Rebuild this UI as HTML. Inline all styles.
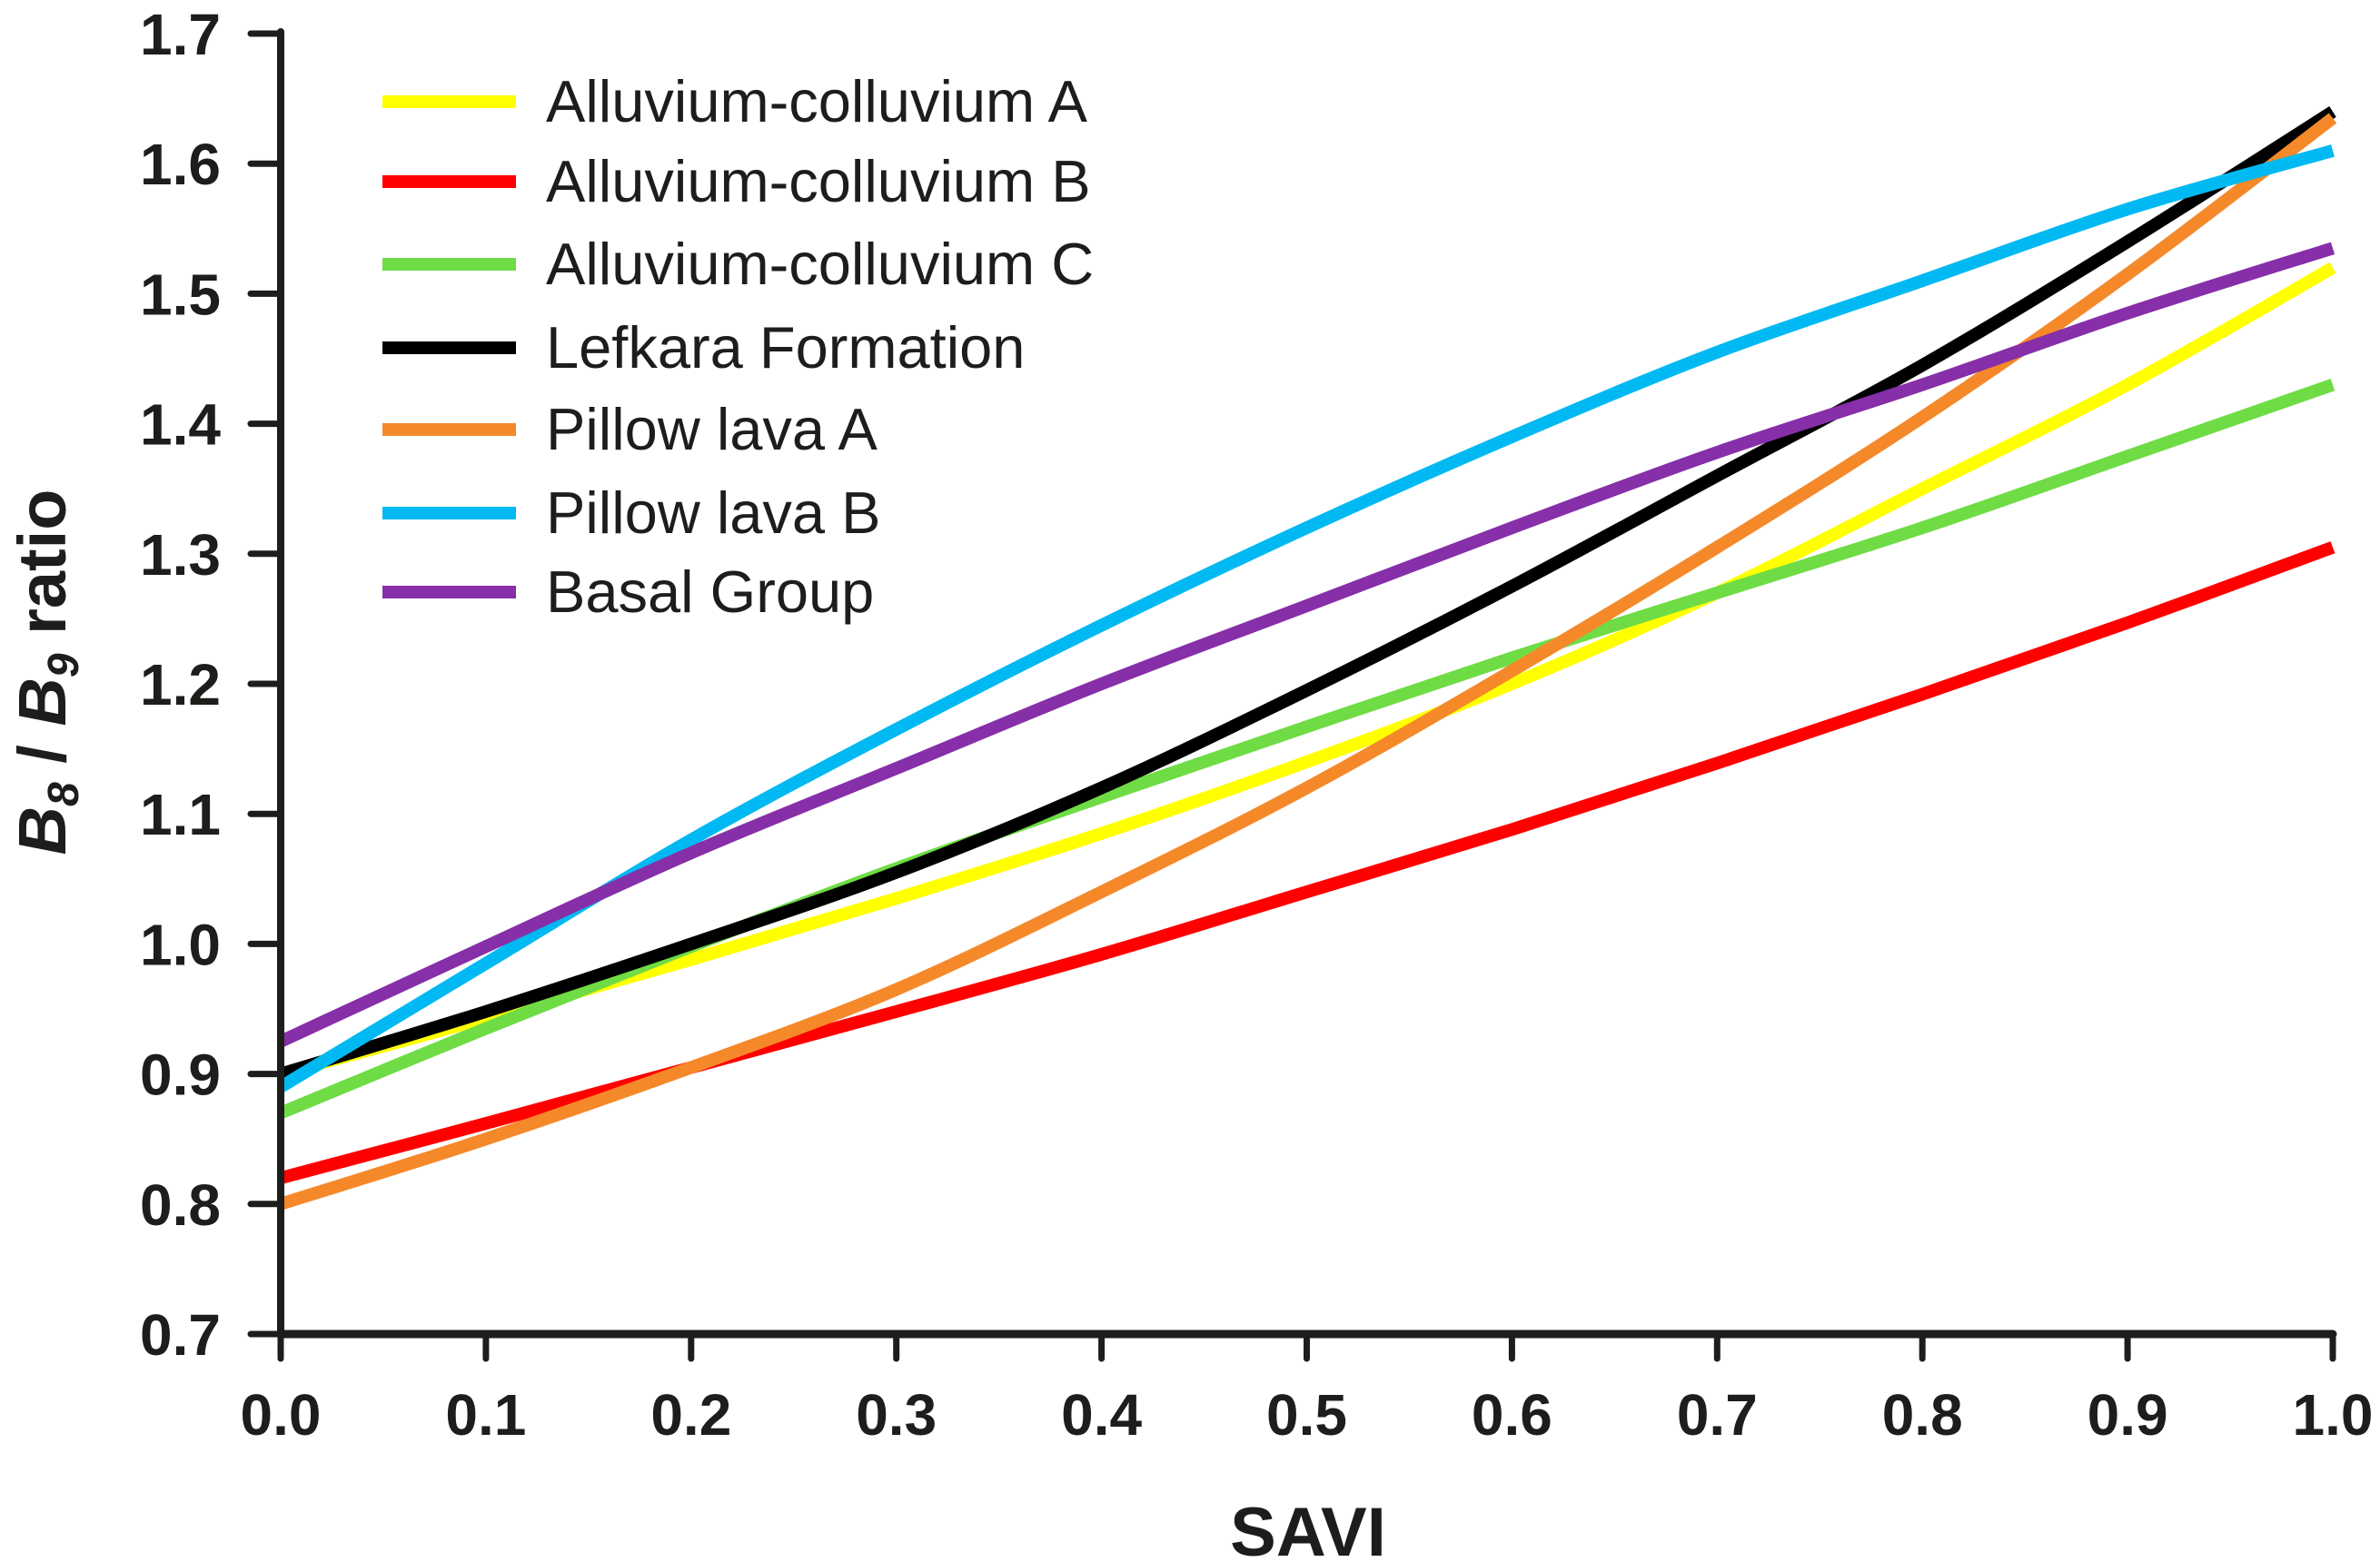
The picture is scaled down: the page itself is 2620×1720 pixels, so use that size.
<!DOCTYPE html>
<html><head><meta charset="utf-8"><style>
html,body{margin:0;padding:0;background:#fff;}
svg{display:block;font-family:"Liberation Sans",Arial,sans-serif;}
</style></head><body>
<svg id="chart" width="2620" height="1720" viewBox="0 0 2620 1720" xmlns="http://www.w3.org/2000/svg">
<g id="series"></g>
<g id="axes"></g>
<g id="legend"></g>
<text x="1440" y="1713" font-size="76" font-weight="bold" text-anchor="middle" fill="#1d1d1b">SAVI</text>
<text transform="translate(72,740) rotate(-90)" font-size="74" font-weight="bold" text-anchor="middle" fill="#1d1d1b"><tspan font-style="italic">B</tspan><tspan font-style="italic" font-size="48" dy="14">8</tspan><tspan dy="-14"> / </tspan><tspan font-style="italic">B</tspan><tspan font-style="italic" font-size="48" dy="14">9</tspan><tspan dy="-14"> ratio</tspan></text>
</svg>
<script>
const xValues = [0,0.1,0.2,0.3,0.4,0.5,0.6,0.7,0.8,0.9,1.0];
const seriesNames = ["Alluvium-colluvium A","Alluvium-colluvium B","Alluvium-colluvium C","Lefkara Formation","Pillow lava A","Pillow lava B","Basal Group"];
const alluviumA = [0.90,0.943,0.988,1.035,1.085,1.14,1.20,1.27,1.35,1.43,1.52];
const alluviumB = [0.82,0.862,0.905,0.948,0.992,1.04,1.088,1.139,1.192,1.247,1.305];
const alluviumC = [0.87,0.935,0.998,1.058,1.113,1.167,1.22,1.27,1.32,1.375,1.43];
const lefkara = [0.90,0.948,1.00,1.055,1.12,1.195,1.275,1.36,1.445,1.54,1.64];
const pillowA = [0.80,0.85,0.905,0.965,1.04,1.12,1.21,1.305,1.405,1.515,1.635];
const pillowB = [0.89,0.985,1.08,1.165,1.245,1.32,1.39,1.455,1.51,1.565,1.61];
const basal = [0.925,0.998,1.07,1.135,1.2,1.26,1.32,1.378,1.43,1.485,1.535];
const xTicks = ["0.0","0.1","0.2","0.3","0.4","0.5","0.6","0.7","0.8","0.9","1.0"];
const yTicks = ["0.7","0.8","0.9","1.0","1.1","1.2","1.3","1.4","1.5","1.6","1.7"];

const NS="http://www.w3.org/2000/svg";
const X0=309,X1=2568,Y0=1469,Y1=37;
const sx=v=>X0+(v-0)/(1-0)*(X1-X0);
const sy=v=>Y0-(v-0.7)/(1.7-0.7)*(Y0-Y1);
const colors=["#ffff00","#ff0000","#6fdc45","#000000","#f5892a","#00b9f2","#862fa8"];
const allSeries=[alluviumA,alluviumB,alluviumC,lefkara,pillowA,pillowB,basal];
const keys=["alluvium-a","alluvium-b","alluvium-c","lefkara","pillow-a","pillow-b","basal"];

function smoothPath(pts){
  let d="M"+pts[0][0]+","+pts[0][1];
  for(let i=0;i<pts.length-1;i++){
    const p0=pts[i-1]||pts[i],p1=pts[i],p2=pts[i+1],p3=pts[i+2]||p2;
    const c1=[p1[0]+(p2[0]-p0[0])/6,p1[1]+(p2[1]-p0[1])/6];
    const c2=[p2[0]-(p3[0]-p1[0])/6,p2[1]-(p3[1]-p1[1])/6];
    d+=" C"+c1+" "+c2+" "+p2;
  }
  return d;
}
const sg=document.getElementById('series');
allSeries.forEach((s,i)=>{
  const p=document.createElementNS(NS,'path');
  p.setAttribute('d',smoothPath(s.map((v,j)=>[sx(xValues[j]),sy(v)])));
  p.setAttribute('fill','none');p.setAttribute('stroke',colors[i]);
  p.setAttribute('stroke-width','14');
  
  
  sg.appendChild(p);
});
const ax=document.getElementById('axes');
function line(x1,y1,x2,y2,w,name){
  const l=document.createElementNS(NS,'line');
  l.setAttribute('x1',x1);l.setAttribute('y1',y1);l.setAttribute('x2',x2);l.setAttribute('y2',y2);
  l.setAttribute('stroke','#1d1d1b');l.setAttribute('stroke-width',w);l.setAttribute('stroke-linecap','round');
  
  
  ax.appendChild(l);
}
function text(x,y,s,anchor,name){
  const t=document.createElementNS(NS,'text');
  t.setAttribute('x',x);t.setAttribute('y',y);t.setAttribute('font-size','64');
  t.setAttribute('font-weight','bold');t.setAttribute('text-anchor',anchor);t.setAttribute('fill','#1d1d1b');
  t.textContent=s;
  
  
  ax.appendChild(t);
}
line(X0,Y1-2,X0,Y0,8,'y-axis-line');
line(X0,Y0,X1,Y0,9,'x-axis-line');
yTicks.forEach(s=>{const y=sy(parseFloat(s));line(X0-33,y,X0,y,7,'y-tick');text(243,y+23,s,'end','y-tick-label');});
xTicks.forEach(s=>{const x=sx(parseFloat(s));line(x,Y0,x,Y0+27,7,'x-tick');text(x,1580,s,'middle','x-tick-label');});
const lg=document.getElementById('legend');
const rows=[112,200,291,383,473,565,652];
seriesNames.forEach((n,i)=>{
  const l=document.createElementNS(NS,'line');
  l.setAttribute('x1',421);l.setAttribute('x2',568);l.setAttribute('y1',rows[i]);l.setAttribute('y2',rows[i]);
  l.setAttribute('stroke',colors[i]);l.setAttribute('stroke-width','14');
  
  
  lg.appendChild(l);
  const t=document.createElementNS(NS,'text');
  t.setAttribute('x',601);t.setAttribute('y',rows[i]+22);t.setAttribute('font-size','65');t.setAttribute('fill','#1d1d1b');
  t.textContent=n;
  
  
  lg.appendChild(t);
});
</script>
</body></html>
